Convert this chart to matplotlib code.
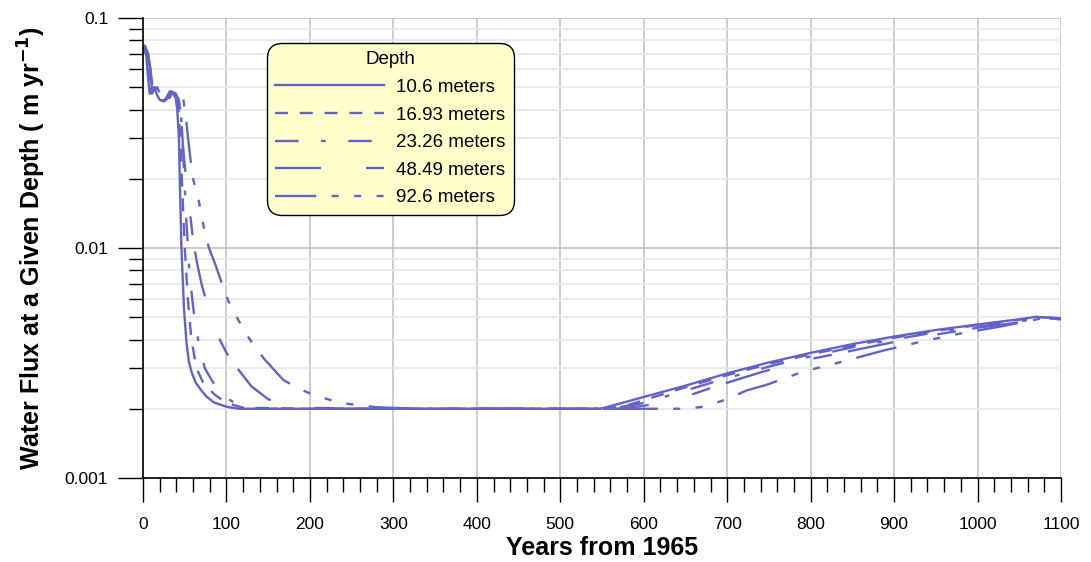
import matplotlib
matplotlib.use("Agg")
import matplotlib.pyplot as plt
from matplotlib.ticker import FixedLocator, MultipleLocator, NullFormatter, FixedFormatter

plt.rcParams['font.family'] = ['Liberation Sans', 'DejaVu Sans']

# flux (m/yr) against years from 1965, one series per depth
depth_labels = ["10.6 meters", "16.93 meters", "23.26 meters", "48.49 meters", "92.6 meters"]

yrs_10 = [0, 2, 4, 6, 8, 10, 13, 16, 20, 24, 28, 32, 36, 39, 41, 43, 44, 46, 49, 52, 55, 58, 63, 70, 76,
          85, 100, 115, 150, 300, 450, 548, 570, 600, 650, 700, 750, 800, 850, 900, 950, 1000, 1050, 1070, 1100]
flux_10 = [0.074, 0.076, 0.068, 0.055, 0.047, 0.047, 0.050, 0.047, 0.044, 0.0435, 0.045, 0.048, 0.047, 0.045,
           0.040, 0.030, 0.020, 0.010, 0.0055, 0.0039, 0.0032, 0.0029, 0.0026, 0.0024, 0.00226, 0.00213, 0.00204,
           0.002, 0.002, 0.002, 0.002, 0.002, 0.0021, 0.00225, 0.00252, 0.00285, 0.00318, 0.0035, 0.00382,
           0.00412, 0.0044, 0.00465, 0.0049, 0.00502, 0.00495]

yrs_17 = [0, 2, 4, 7, 9, 11, 14, 17, 21, 25, 29, 33, 37, 41, 43, 45, 47, 50, 54, 58, 64, 72, 86, 100, 120,
          200, 400, 555, 580, 600, 650, 700, 750, 800, 850, 900, 950, 1000, 1050, 1075, 1100]
flux_17 = [0.073, 0.075, 0.070, 0.056, 0.047, 0.047, 0.050, 0.047, 0.044, 0.0435, 0.045, 0.048, 0.047, 0.045,
           0.038, 0.028, 0.018, 0.010, 0.0058, 0.004, 0.003, 0.0026, 0.0023, 0.00212, 0.00202, 0.002, 0.002,
           0.002, 0.00207, 0.00218, 0.00248, 0.0028, 0.00313, 0.00345, 0.00376, 0.00407, 0.00436, 0.00462,
           0.00487, 0.005, 0.00495]

yrs_23 = [0, 3, 5, 8, 10, 12, 15, 18, 22, 26, 30, 34, 38, 42, 45, 47, 49, 52, 56, 61, 66, 74, 84, 94, 110,
          125, 200, 400, 560, 600, 650, 700, 750, 800, 850, 900, 950, 1000, 1050, 1080, 1100]
flux_23 = [0.072, 0.075, 0.070, 0.056, 0.047, 0.047, 0.050, 0.047, 0.044, 0.0435, 0.045, 0.048, 0.047, 0.045,
           0.040, 0.032, 0.022, 0.013, 0.0075, 0.0052, 0.004, 0.003, 0.0026, 0.0023, 0.00212, 0.002, 0.002,
           0.002, 0.002, 0.00212, 0.0024, 0.00272, 0.00305, 0.00338, 0.0037, 0.004, 0.0043, 0.00455, 0.0048,
           0.00495, 0.0049]

yrs_48 = [0, 3, 6, 9, 11, 13, 16, 19, 23, 27, 31, 35, 39, 43, 46, 48, 51, 54, 57, 60, 65, 70, 78, 86, 100,
          113, 130, 150, 175, 200, 250, 400, 570, 600, 641, 693, 743, 795, 850, 900, 950, 1000, 1050, 1085, 1100]
flux_48 = [0.071, 0.074, 0.070, 0.058, 0.047, 0.047, 0.050, 0.047, 0.044, 0.0435, 0.045, 0.048, 0.047, 0.044,
           0.036, 0.027, 0.021, 0.017, 0.0135, 0.0108, 0.0085, 0.007, 0.0055, 0.0044, 0.0035, 0.003, 0.0025,
           0.0022, 0.00208, 0.00202, 0.002, 0.002, 0.002, 0.00206, 0.0022, 0.00255, 0.0029, 0.00326, 0.00358,
           0.0039, 0.0042, 0.0045, 0.00475, 0.0049, 0.0049]

yrs_93 = [0, 3, 6, 9, 12, 14, 17, 20, 24, 28, 32, 36, 40, 44, 48, 51, 54, 57, 60, 63, 66, 72, 79, 86, 94,
          102, 115, 128, 145, 168, 186, 204, 236, 280, 330, 400, 550, 650, 671, 700, 723, 747, 791, 840, 887,
          933, 980, 1031, 1079, 1100]
flux_93 = [0.070, 0.073, 0.070, 0.060, 0.047, 0.047, 0.050, 0.047, 0.044, 0.0435, 0.045, 0.048, 0.047, 0.046,
           0.045, 0.038, 0.030, 0.024, 0.020, 0.018, 0.0166, 0.0127, 0.010, 0.0086, 0.0071, 0.0059, 0.0048,
           0.004, 0.0033, 0.00267, 0.00245, 0.0023, 0.00212, 0.00203, 0.002, 0.002, 0.002, 0.002, 0.00204,
           0.0022, 0.0024, 0.00254, 0.0029, 0.00322, 0.00358, 0.00392, 0.00425, 0.00458, 0.00496, 0.0049]

series = [(yrs_10, flux_10), (yrs_17, flux_17), (yrs_23, flux_23), (yrs_48, flux_48), (yrs_93, flux_93)]
dashes = ['-', (0, (5.5, 5)), (0, (10, 9.5, 2, 9.5)), (0, (19.5, 19, 8, 7)),
          (0, (17.5, 6.5, 3, 6.5, 3, 6.5, 3, 6.5))]
line_color = '#6464c8'

fig = plt.figure(figsize=(10.91, 5.62), dpi=100)
ax = fig.add_axes([0.1311, 0.1495, 0.8414, 0.8185])

for (x, y), ls, lab in zip(series, dashes, depth_labels):
    ax.plot(x, y, color=line_color, lw=1.7, linestyle=ls, label=lab)

ax.set_yscale('log')
ax.set_xlim(0, 1100)
ax.set_ylim(0.001, 0.1)

# grid: darker lines on decades / every 100 years, faint lines on log minors
ax.xaxis.set_major_locator(MultipleLocator(100))
ax.xaxis.set_minor_locator(MultipleLocator(20))
ax.yaxis.set_major_locator(FixedLocator([0.001, 0.01, 0.1]))
ax.yaxis.set_major_formatter(FixedFormatter(['0.001', '0.01', '0.1']))
minor_y = [m * d for d in (0.001, 0.01) for m in range(2, 10)]
ax.yaxis.set_minor_locator(FixedLocator(minor_y))
ax.yaxis.set_minor_formatter(NullFormatter())
ax.grid(True, which='major', color='#c4c4c4', lw=1.2)
ax.grid(True, which='minor', axis='y', color='#e8e8e8', lw=1.2)
ax.set_axisbelow(True)

for s in ('top', 'right'):
    ax.spines[s].set_visible(False)
ax.spines['left'].set_linewidth(1.2)
ax.spines['bottom'].set_linewidth(1.2)

ax.tick_params(axis='x', which='major', direction='out', length=17, width=1, pad=11, labelsize=12.5)
ax.tick_params(axis='x', which='minor', direction='out', length=10, width=1)
ax.tick_params(axis='y', which='major', direction='out', length=18, width=1, pad=7, labelsize=12.5)
ax.tick_params(axis='y', which='minor', direction='out', length=10, width=1)

ax.set_xlabel('Years from 1965', fontsize=18, fontweight='bold', labelpad=3)
ax.set_ylabel('Water Flux at a Given Depth ( m yr$^{\\mathbf{-1}}$)', fontsize=18, fontweight='bold', labelpad=12)

leg = ax.legend(title='Depth', loc='upper left', bbox_to_anchor=(0.135, 0.946), borderaxespad=0,
                fontsize=13.5, title_fontsize=13.5, handlelength=5.8, handletextpad=0.65,
                labelspacing=0.56, borderpad=0.45, fancybox=True, framealpha=1,
                facecolor='#ffffcc', edgecolor='black')
leg.get_frame().set_boxstyle('round,pad=0,rounding_size=0.8')
leg.get_frame().set_linewidth(1.0)

fig.savefig('out.png', dpi=100)
